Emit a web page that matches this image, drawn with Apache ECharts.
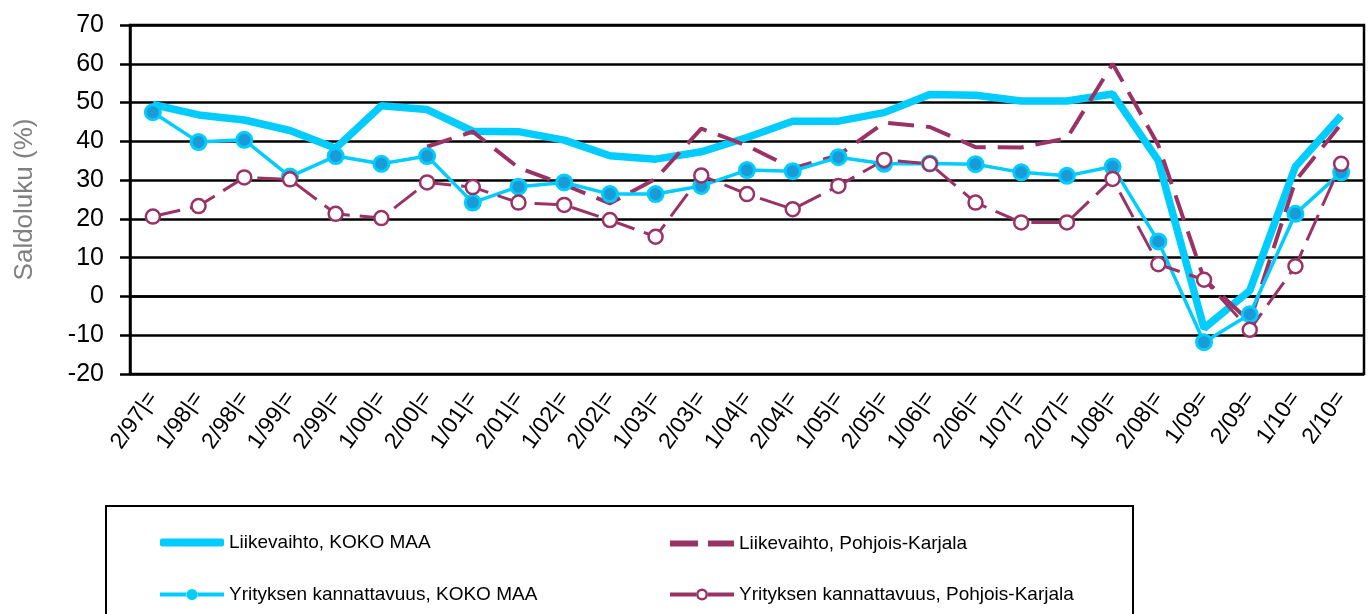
<!DOCTYPE html>
<html>
<head>
<meta charset="utf-8">
<script src="https://cdn.jsdelivr.net/npm/echarts@6/dist/echarts.min.js"></script>
<style>
html,body{margin:0;padding:0;background:#fff;}
#chart{width:1372px;height:614px;}
</style>
</head>
<body>
<div id="chart"></div>
<script>
const categories = ['2/97|=','1/98|=','2/98|=','1/99|=','2/99|=','1/00|=','2/00|=','1/01|=','2/01|=','1/02|=','2/02|=','1/03|=','2/03|=','1/04|=','2/04|=','1/05|=','2/05|=','1/06|=','2/06|=','1/07|=','2/07|=','1/08|=','2/08|=','1/09=','2/09=','1/10=','2/10='];
const liikevaihtoKoko = [49.5,46.8,45.5,42.8,38.2,49.2,48.2,42.6,42.5,40.3,36.3,35.4,37.3,41,45.2,45.2,47.4,52.1,51.9,50.4,50.4,52.2,35,-8.2,1.5,33.5,46.6];
const liikevaihtoPK = [null,null,null,null,null,null,38.6,42.5,33.2,28.8,24,30.3,43.3,38.9,33,36.4,44.8,43.7,38.5,38.4,40.8,60,39,4.5,-6.5,29.8,44.5];
const kannattavuusKoko = [47.5,39.8,40.4,30.9,36.2,34.2,36.2,24.2,28.3,29.4,26.4,26.4,28.5,32.6,32.3,35.9,34.2,34.3,34.1,32,31.1,33.5,14.2,-11.8,-4.6,21.3,32];
const kannattavuusPK = [20.6,23.3,30.7,30.2,21.3,20.2,29.4,28.2,24.2,23.6,19.7,15.4,31.2,26.4,22.5,28.5,35.2,34.2,24.2,19.1,19.1,30.3,8.3,4.3,-8.6,7.8,34.2];
const seriesNames = ['Liikevaihto, KOKO MAA','Liikevaihto, Pohjois-Karjala','Yrityksen kannattavuus, KOKO MAA','Yrityksen kannattavuus, Pohjois-Karjala'];

const FONT = '"Liberation Sans", Arial, sans-serif';
const CYAN = '#00CCFF';
const PURPLE = '#993366';

const ICON_THICK = 'roundRect';
const ICON_DASH = 'path://M0,0H28V6H0Z M38,0H64V6H38Z';
const ICON_MARK = 'path://M0,4H27V8H0Z M37,4H64V8H37Z M26.5,6a5.5,5.5 0 1,0 11,0a5.5,5.5 0 1,0 -11,0Z';
const ICON_RING = 'path://M0,4H26V8H0Z M38,4H64V8H38Z M26,6a6,6 0 1,0 12,0a6,6 0 1,0 -12,0Z M28.5,6a3.5,3.5 0 1,1 7,0a3.5,3.5 0 1,1 -7,0Z';

const chart = echarts.init(document.getElementById('chart'));
function leg(name, icon, h, color, left, centerY) {
  return {
    data: [{name: name, icon: icon, itemStyle: {color: color, borderWidth: 0}}],
    left: left, top: centerY - h / 2, padding: 0, itemWidth: 64, itemHeight: h, itemGap: 0,
    textStyle: {fontFamily: FONT, fontSize: 19, color: '#000'},
    selectedMode: false
  };
}
chart.setOption({
  animation: false,
  backgroundColor: '#fff',
  grid: {left: 130, right: 8, top: 25, bottom: 240, show: true, borderColor: '#000', borderWidth: 2.5},
  xAxis: {
    type: 'category', data: categories, boundaryGap: true,
    axisLine: {lineStyle: {color: '#000', width: 2.5}},
    axisTick: {show: false},
    axisLabel: {interval: 0, rotate: 55, margin: 20, fontFamily: FONT, fontSize: 23, color: '#000'}
  },
  yAxis: {
    type: 'value', min: -20, max: 70, interval: 10,
    name: 'Saldoluku (%)', nameLocation: 'middle', nameGap: 92,
    nameTextStyle: {fontFamily: FONT, fontSize: 26, color: '#808080'},
    axisLine: {show: true, lineStyle: {color: '#000', width: 2.5}},
    axisTick: {show: true, length: 10, lineStyle: {color: '#000', width: 2.5}},
    axisLabel: {margin: 26, fontFamily: FONT, fontSize: 25, color: '#000'},
    splitLine: {lineStyle: {color: '#000', width: 2.5}}
  },
  legend: [
    leg(seriesNames[0], ICON_THICK, 8, CYAN, 160, 537),
    leg(seriesNames[1], ICON_DASH, 6, PURPLE, 670, 537),
    leg(seriesNames[2], ICON_MARK, 12, CYAN, 160, 591),
    leg(seriesNames[3], ICON_RING, 12, PURPLE, 670, 591)
  ],
  graphic: [{
    type: 'rect', shape: {x: 106, y: 506, width: 1027, height: 130},
    style: {fill: 'none', stroke: '#000', lineWidth: 2}, z: -1
  }],
  series: [
    {name: seriesNames[0], type: 'line', data: liikevaihtoKoko, symbol: 'none',
     lineStyle: {color: CYAN, width: 7.5}, itemStyle: {color: CYAN}},
    {name: seriesNames[1], type: 'line', data: liikevaihtoPK, symbol: 'none',
     lineStyle: {color: PURPLE, width: 4, type: [26, 12]}, itemStyle: {color: PURPLE}},
    {name: seriesNames[2], type: 'line', data: kannattavuusKoko, symbol: 'circle', symbolSize: 15,
     lineStyle: {color: CYAN, width: 3.5}, itemStyle: {color: '#1a9ad6', borderColor: CYAN, borderWidth: 3}},
    {name: seriesNames[3], type: 'line', data: kannattavuusPK, symbol: 'circle', symbolSize: 14,
     lineStyle: {color: PURPLE, width: 3, type: [28, 10]}, itemStyle: {color: '#fff', borderColor: PURPLE, borderWidth: 2.5}}
  ]
});
</script>
</body>
</html>
